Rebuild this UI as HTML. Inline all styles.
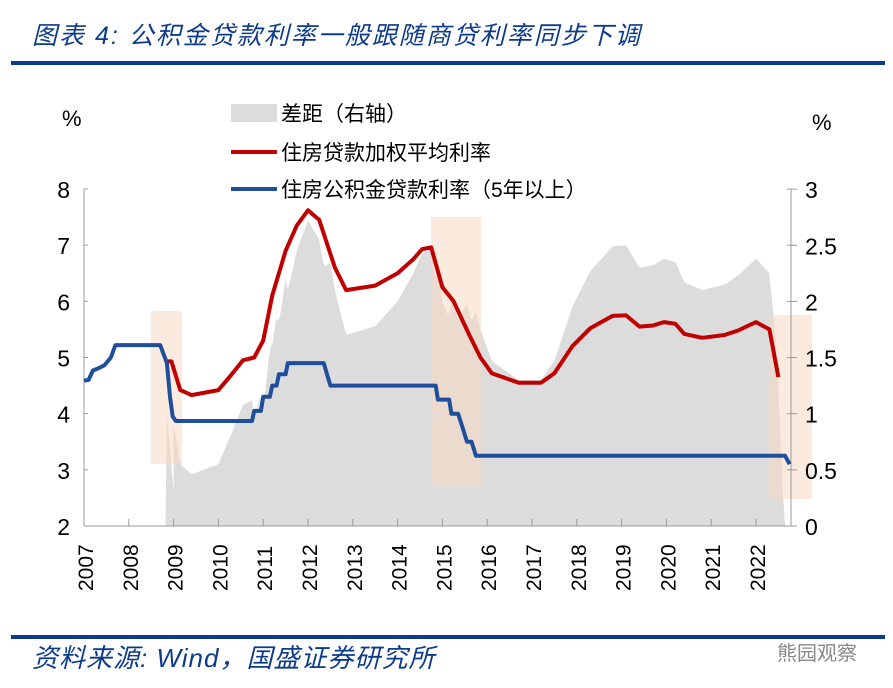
<!DOCTYPE html><html><head><meta charset="utf-8"><style>
body{margin:0;background:#fff;width:893px;height:683px;overflow:hidden;font-family:"Liberation Sans","Noto Sans CJK SC",sans-serif}
</style></head><body>
<svg id="s" width="893" height="683" xmlns="http://www.w3.org/2000/svg">
<text x="32" y="44" font-size="25" letter-spacing="2" fill="#0d3b8c" font-style="italic" font-family="Liberation Sans,Noto Sans CJK SC,sans-serif">图表 4:  公积金贷款利率一般跟随商贷利率同步下调</text>
<rect x="11" y="61" width="874" height="4" fill="#0d3b8c"/>
<g id="plot"></g>
<rect x="11" y="635" width="874" height="4" fill="#0d3b8c"/>
<text x="32" y="667" font-size="26" letter-spacing="1" fill="#0d3b8c" font-style="italic" font-family="Liberation Sans,Noto Sans CJK SC,sans-serif">资料来源:  Wind，国盛证券研究所</text>
<text x="777" y="660" font-size="20" fill="#888" font-family="Noto Sans CJK SC,sans-serif">熊园观察</text>
</svg>
<script>
const X=y=>84+44.8*(y-2007), YL=v=>526-56.17*(v-2), YR=v=>526-112.3*v;
function interp(p,t){if(t<=p[0][0])return p[0][1];for(let i=1;i<p.length;i++){if(t<=p[i][0]){const a=p[i-1],b=p[i];return a[1]+(b[1]-a[1])*(t-a[0])/(b[0]-a[0]);}}return p[p.length-1][1];}
const blue=[[2007,4.59],[2007.1,4.6],[2007.2,4.77],[2007.3,4.8],[2007.45,4.86],[2007.6,5.0],[2007.7,5.22],[2007.8,5.22],[2008.7,5.22],[2008.85,4.9],[2008.92,4.3],[2008.98,3.95],[2009.05,3.87],[2010.75,3.87],[2010.8,4.05],[2010.95,4.05],[2011.0,4.3],[2011.15,4.3],[2011.2,4.5],[2011.3,4.5],[2011.35,4.7],[2011.5,4.7],[2011.55,4.9],[2012.35,4.9],[2012.5,4.5],[2014.85,4.5],[2014.9,4.25],[2015.15,4.25],[2015.2,4.0],[2015.35,4.0],[2015.45,3.75],[2015.55,3.5],[2015.65,3.5],[2015.75,3.25],[2022.65,3.25],[2022.75,3.1]];
const red=[[2008.85,4.93],[2008.95,4.93],[2009.15,4.42],[2009.4,4.33],[2010,4.42],[2010.3,4.7],[2010.55,4.95],[2010.8,5.0],[2011,5.3],[2011.2,6.1],[2011.5,6.9],[2011.75,7.35],[2012,7.62],[2012.25,7.45],[2012.6,6.6],[2012.85,6.2],[2013.5,6.28],[2014,6.5],[2014.35,6.75],[2014.55,6.93],[2014.75,6.96],[2015.0,6.25],[2015.25,6.0],[2015.6,5.4],[2015.85,5.0],[2016.1,4.72],[2016.7,4.55],[2017.2,4.55],[2017.5,4.72],[2017.9,5.2],[2018.3,5.52],[2018.8,5.74],[2019.1,5.75],[2019.4,5.55],[2019.7,5.57],[2019.95,5.63],[2020.2,5.6],[2020.4,5.42],[2020.8,5.35],[2021.3,5.4],[2021.6,5.48],[2022.0,5.63],[2022.3,5.5],[2022.5,4.65]];
let g='';
let pts=[[X(2008.82),YR(0)],[X(2008.85),YR(1.0)],[X(2009.0),YR(0.3)]];
for(let t=2009.0;t<=2022.5;t+=1/24){let d=interp(red,t)-interp(blue,t);
 pts.push([X(t),YR(Math.max(0,d))]);}
pts.push([X(2022.6),YR(0.3)],[X(2022.65),YR(0)]);
g+='<polygon fill="#dcdcdc" points="'+pts.map(p=>p[0].toFixed(1)+','+p[1].toFixed(1)).join(' ')+'"/>';
g+='<rect x="151" y="311" width="31" height="153" fill="#f8d9c3" opacity="0.55"/>';
g+='<rect x="431" y="217" width="50" height="269" fill="#f8d9c3" opacity="0.55"/>';
g+='<rect x="769" y="315" width="43" height="184" fill="#f8d9c3" opacity="0.55"/>';
g+='<line x1="84" y1="189" x2="84" y2="526" stroke="#999"/><line x1="791" y1="189" x2="791" y2="526" stroke="#999"/><line x1="84" y1="526" x2="791" y2="526" stroke="#999"/>';
for(let v=2;v<=8;v++){let y=YL(v);g+=`<line x1="84" y1="${y}" x2="88" y2="${y}" stroke="#999"/><text x="70" y="${y+9}" font-size="23" text-anchor="end">${v}</text>`;}
for(let v=0;v<=3;v+=0.5){let y=YR(v);g+=`<line x1="787" y1="${y}" x2="797" y2="${y}" stroke="#999"/><text x="805" y="${y+9}" font-size="23">${v}</text>`;}
for(let yr=2007;yr<=2022;yr++){let x=X(yr);g+=`<line x1="${x}" y1="519" x2="${x}" y2="526" stroke="#999"/><text transform="translate(${x+9},591) rotate(-90)" font-size="21">${yr}</text>`;}
g+='<text x="62" y="126" font-size="22">%</text><text x="812" y="130" font-size="22">%</text>';
const path=(p,c)=>'<polyline fill="none" stroke="'+c+'" stroke-width="4" stroke-linejoin="round" points="'+p.map(a=>X(a[0]).toFixed(1)+','+YL(a[1]).toFixed(1)).join(' ')+'"/>';
g+=path(red,'#c00000')+path(blue,'#1f4e9c');
g+='<rect x="231" y="104" width="46" height="18" fill="#dcdcdc"/><text x="281" y="121" font-size="21">差距（右轴）</text>';
g+='<line x1="231" y1="152" x2="277" y2="152" stroke="#c00000" stroke-width="4"/><text x="281" y="160" font-size="21">住房贷款加权平均利率</text>';
g+='<line x1="231" y1="189" x2="277" y2="189" stroke="#1f4e9c" stroke-width="4"/><text x="281" y="197" font-size="21">住房公积金贷款利率（5年以上）</text>';
document.getElementById('plot').innerHTML=g;
</script>
</body></html>
